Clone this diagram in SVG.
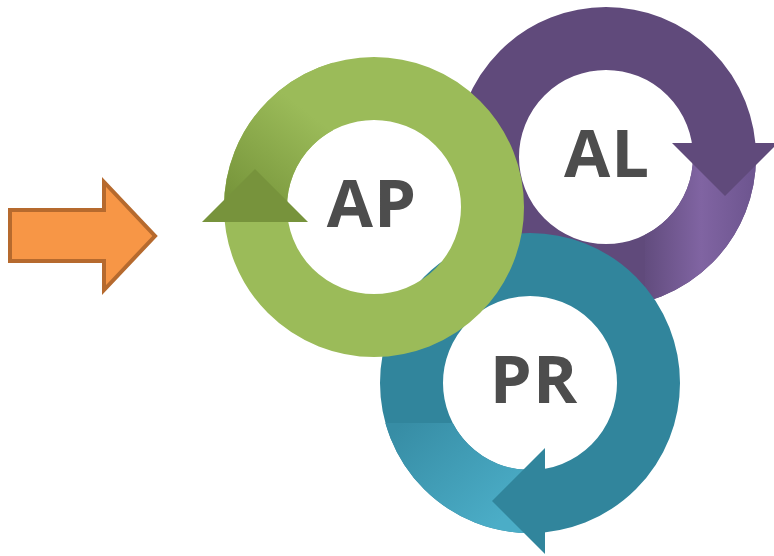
<svg xmlns="http://www.w3.org/2000/svg" width="774" height="556" viewBox="0 0 774 556">
<style>
.ring{fill:none;stroke-width:63}
.lbl{font-family:"Open Sans","DejaVu Sans",sans-serif;font-weight:700;font-size:67px;fill:#4D4D4D;text-anchor:middle;letter-spacing:1px}
</style>
<defs>
<linearGradient id="gG" gradientUnits="userSpaceOnUse" x1="235" y1="200" x2="305" y2="110">
<stop offset="0" stop-color="#77953B"/><stop offset="1" stop-color="#9BBB59"/>
</linearGradient>
<linearGradient id="gP" gradientUnits="userSpaceOnUse" x1="645" y1="0" x2="757" y2="0">
<stop offset="0" stop-color="#624C7E"/><stop offset="0.5" stop-color="#8064A2"/><stop offset="1" stop-color="#6C548E"/>
</linearGradient>
<linearGradient id="gT" gradientUnits="userSpaceOnUse" x1="400" y1="425" x2="490" y2="530">
<stop offset="0" stop-color="#378DA5"/><stop offset="1" stop-color="#4BADC7"/>
</linearGradient>
<clipPath id="cG"><rect x="200" y="40" width="133" height="167"/></clipPath>
<clipPath id="cP"><rect x="645" y="157" width="129" height="160"/></clipPath>
<clipPath id="cT"><rect x="370" y="423" width="175" height="133"/></clipPath>
</defs>
<g id="connectors">
<polygon points="10,210 104,210 104,182 155,236 104,290 104,261 10,261" fill="#F79646" stroke="#B66A2E" stroke-width="4" stroke-linejoin="miter"/>
</g>
<g id="al">
<circle class="ring" cx="606" cy="157" r="118.5" stroke="#604A7B"/>
<circle class="ring" cx="606" cy="157" r="118.5" stroke="url(#gP)" clip-path="url(#cP)"/>
<polygon points="672,143 778,143 725,196" fill="#604A7B"/>
<text class="lbl" x="607" y="177">AL</text>
</g>
<g id="pr">
<circle class="ring" cx="530" cy="383" r="118.5" stroke="#31859C"/>
<circle class="ring" cx="530" cy="383" r="118.5" stroke="url(#gT)" clip-path="url(#cT)"/>
<polygon points="545,448 545,554 492,501" fill="#31859C"/>
<text class="lbl" x="534" y="403">PR</text>
</g>
<g id="ap">
<circle class="ring" cx="374" cy="207" r="118.5" stroke="#9BBB59"/>
<circle class="ring" cx="374" cy="207" r="118.5" stroke="url(#gG)" clip-path="url(#cG)"/>
<polygon points="202,222 308,222 255,169" fill="#77933C"/>
<text class="lbl" x="372" y="227">AP</text>
</g>
</svg>
